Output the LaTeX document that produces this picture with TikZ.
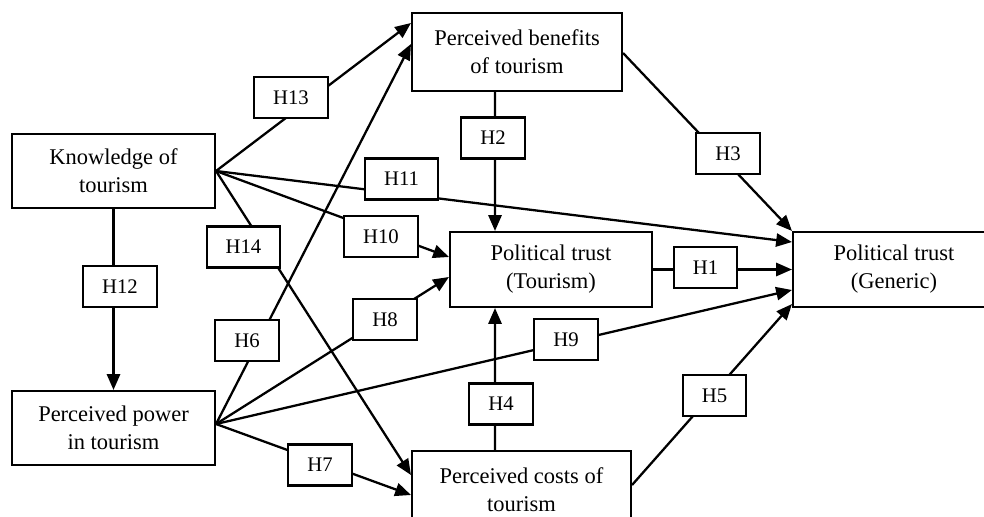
\documentclass[tikz,border=0pt]{standalone}
\usepackage{fontspec}
\setmainfont{Liberation Serif}
\usetikzlibrary{arrows.meta}
\begin{document}
\begin{tikzpicture}[x=0.02cm,y=-0.02cm,
    var/.style={draw,line width=1.2pt,align=center,inner sep=0pt,font=\fontsize{12.8}{16}\selectfont},
    hyp/.style={draw,fill=white,line width=1.2pt,inner xsep=0.38cm,inner ysep=0pt,minimum height=0.82cm,font=\fontsize{11.8}{14}\selectfont},
    link/.style={line width=1.3pt,-{Triangle[length=9pt,width=7.5pt]}}]
    \useasboundingbox (0,0) rectangle (984,517);
    % constructs
    \node[var,minimum width=4.06cm,minimum height=1.48cm] (know) at (113.5,171) {Knowledge of\\tourism};
    \node[var,minimum width=4.06cm,minimum height=1.48cm] (power) at (113.5,428) {Perceived power\\in tourism};
    \node[var,minimum width=4.2cm,minimum height=1.56cm] (ben) at (517,52) {Perceived benefits\\of tourism};
    \node[var,minimum width=4.38cm,minimum height=1.56cm] (cost) at (521.5,490) {Perceived costs of\\tourism};
    \node[var,minimum width=4.04cm,minimum height=1.5cm] (ptt) at (551,269.5) {Political trust\\(Tourism)};
    \node[var,minimum width=4.04cm,minimum height=1.5cm] (ptg) at (894,269.5) {Political trust\\(Generic)};
    % paths
    \draw[link] (know.east) -- ([yshift=0.58cm]ben.west);
    \draw[link] (know.east) -- ([yshift=0.3cm]cost.west);
    \draw[link] (know.east) -- ([yshift=0.25cm]ptt.west);
    \draw[link] (know.east) -- ([yshift=0.55cm]ptg.west);
    \draw[link] (know.south) -- (power.north);
    \draw[link] ([yshift=0.08cm]power.east) -- ([yshift=0.16cm]ben.west);
    \draw[link] ([yshift=0.08cm]power.east) -- ([yshift=-0.15cm]ptt.west);
    \draw[link] ([yshift=0.08cm]power.east) -- ([yshift=-0.41cm]ptg.west);
    \draw[link] ([yshift=0.08cm]power.east) -- ([yshift=-0.1cm]cost.west);
    \draw[link] ([xshift=-0.44cm]ben.south) -- ([xshift=-1.12cm]ptt.north);
    \draw[link] ([yshift=-0.02cm]ben.east) -- (ptg.north west);
    \draw[link] (ptt.east) -- (ptg.west);
    \draw[link] ([xshift=-0.53cm]cost.north) -- ([xshift=-1.12cm]ptt.south);
    \draw[link] ([yshift=0.1cm]cost.east) -- ([yshift=0.08cm]ptg.south west);
    % hypotheses
    \node[hyp] (h1) at (705.5,267.5) {H1};
    \node[hyp] (h2) at (493,138) {H2};
    \node[hyp] (h3) at (728,153.5) {H3};
    \node[hyp] (h4) at (501,404) {H4};
    \node[hyp] (h5) at (714.5,395.5) {H5};
    \node[hyp] (h6) at (247,340.5) {H6};
    \node[hyp] (h7) at (320,465) {H7};
    \node[hyp] (h8) at (385,319.5) {H8};
    \node[hyp] (h9) at (566,339.5) {H9};
    \node[hyp] (h10) at (381,236.5) {H10};
    \node[hyp] (h11) at (401.5,179) {H11};
    \node[hyp] (h12) at (120,286.5) {H12};
    \node[hyp] (h13) at (291,97.5) {H13};
    \node[hyp] (h14) at (243.5,247) {H14};
\end{tikzpicture}
\end{document}
